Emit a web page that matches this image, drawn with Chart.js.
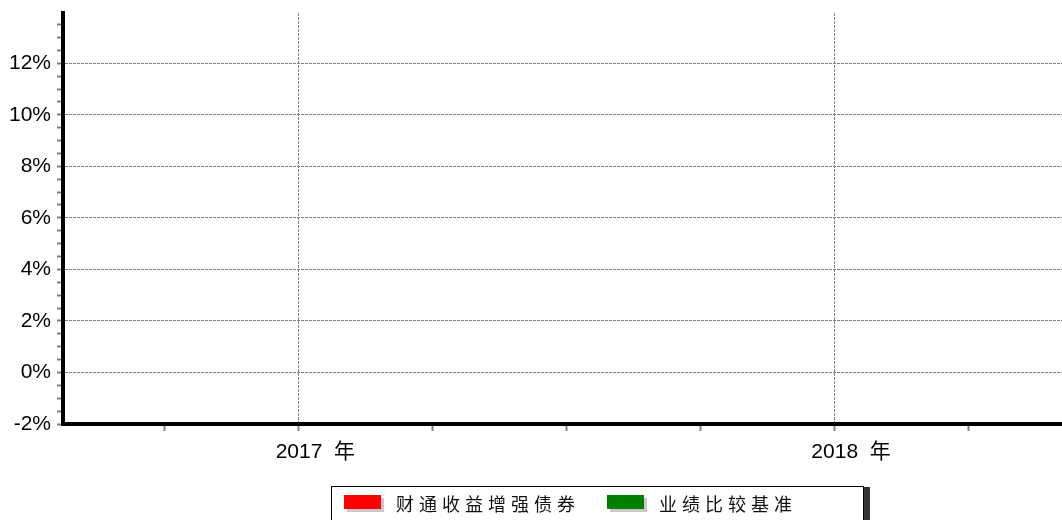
<!DOCTYPE html>
<html lang="zh">

<head>
    <meta charset="UTF-8">
    <title>财通收益增强债券</title>
    <script src="https://cdn.jsdelivr.net/npm/chart.js"></script>
    <style>
        html, body { margin: 0; padding: 0; background: #fff; }
        #wrap { position: relative; width: 1062px; height: 520px; overflow: hidden; }
        #legend {
            position: absolute; left: 331px; top: 486px; width: 533px; height: 40px;
            border: 1px solid #000; box-sizing: border-box; background: #fff;
            box-shadow: 7px 0 0 -1px #333;
            font-family: "Noto Sans CJK SC", sans-serif; font-size: 18px; letter-spacing: 5px;
            color: #111;
        }
        #legend .item { position: absolute; top: 3px; height: 26px; line-height: 26px; white-space: nowrap; }
        #legend .box { position: absolute; top: 5px; width: 37px; height: 14px; box-shadow: 3px 3px 0 #c8c8c8; }
        #legend .txt { position: absolute; left: 52px; top: 0; }
    </style>
</head>

<body>
    <div id="wrap">
        <canvas id="grafico" width="1062" height="520"></canvas>
        <div id="legend"></div>
    </div>
</body>

</html>
<script>
    // series names and colours (the reference shows no data points)
    const nomesSeries = ['财通收益增强债券', '业绩比较基准'];
    const coresSeries = ['#ff0000', '#008000'];
    const serieFundo = [];
    const serieBenchmark = [];

    // axis ticks
    const anosX = [2017, 2018];
    const rotulosX = ['2017  年', '2018  年'];
    const valoresY = [-2, 0, 2, 4, 6, 8, 10, 12];
    const rotulosY = ['-2%', '0%', '2%', '4%', '6%', '8%', '10%', '12%'];

    const fonte = '"Liberation Sans", Arial, "Noto Sans CJK SC", sans-serif';
    const cinza = '#808080';

    function rotuloY(v) {
        const i = valoresY.indexOf(v);
        return i >= 0 ? rotulosY[i] : '';
    }
    function rotuloX(v) {
        const i = anosX.indexOf(v);
        return i >= 0 ? rotulosX[i] : '';
    }

    const config = {
        type: 'line',
        data: {
            datasets: [
                { label: nomesSeries[0], data: serieFundo, borderColor: coresSeries[0], backgroundColor: coresSeries[0], pointRadius: 0 },
                { label: nomesSeries[1], data: serieBenchmark, borderColor: coresSeries[1], backgroundColor: coresSeries[1], pointRadius: 0 }
            ]
        },
        options: {
            responsive: false,
            animation: false,
            layout: { padding: { top: 13, right: 0, left: 0, bottom: 0 } },
            plugins: { legend: { display: false }, tooltip: { enabled: false } },
            scales: {
                x: {
                    type: 'linear',
                    min: 2016.56,
                    max: 2018.425,
                    afterFit: function (s) { s.height = 96; s.paddingLeft = 0; s.paddingRight = 0; },
                    afterBuildTicks: function (s) {
                        // quarter marks, labelled only at the years
                        const t = [];
                        for (let q = 2016.75; q < 2018.4; q += 0.25) t.push({ value: Math.round(q * 100) / 100 });
                        s.ticks = t;
                    },
                    ticks: {
                        autoSkip: false,
                        maxRotation: 0,
                        align: 'start',
                        labelOffset: -23,
                        padding: 9,
                        color: '#000',
                        font: { family: fonte, size: 21 },
                        callback: function (v) { return rotuloX(v); }
                    },
                    grid: {
                        color: function (c) { return c.tick && anosX.indexOf(c.tick.value) >= 0 ? cinza : 'rgba(0,0,0,0)'; },
                        lineWidth: 1,
                        tickColor: cinza,
                        tickLength: 7,
                        tickWidth: 2
                    },
                    border: { display: true, color: '#000', width: 4, dash: [3, 1] }
                },
                y: {
                    min: -2,
                    max: 13.95,
                    afterFit: function (s) { s.width = 63; s.paddingTop = 0; s.paddingBottom = 0; },
                    afterBuildTicks: function (s) {
                        const t = [];
                        for (let v = -2; v <= 13.5; v += 0.5) t.push({ value: v });
                        s.ticks = t;
                    },
                    ticks: {
                        autoSkip: false,
                        padding: 6,
                        color: '#000',
                        font: { family: fonte, size: 21 },
                        callback: function (v) { return rotuloY(v); }
                    },
                    grid: {
                        color: function (c) { return c.tick && valoresY.indexOf(c.tick.value) >= 0 ? cinza : 'rgba(0,0,0,0)'; },
                        lineWidth: 1,
                        tickColor: cinza,
                        tickLength: 6,
                        tickWidth: 2
                    },
                    border: { display: true, color: '#000', width: 4, dash: [3, 1] }
                }
            }
        }
    };

    const grafico = new Chart(document.getElementById('grafico'), config);

    // legend built from the chart's datasets
    const legenda = document.getElementById('legend');
    const posicoes = [12, 275];
    grafico.data.datasets.forEach(function (ds, i) {
        const item = document.createElement('div');
        item.className = 'item';
        item.style.left = posicoes[i] + 'px';
        item.innerHTML = '<span class="box" style="background:' + ds.backgroundColor + '"></span><span class="txt">' + ds.label + '</span>';
        legenda.appendChild(item);
    });
</script>
